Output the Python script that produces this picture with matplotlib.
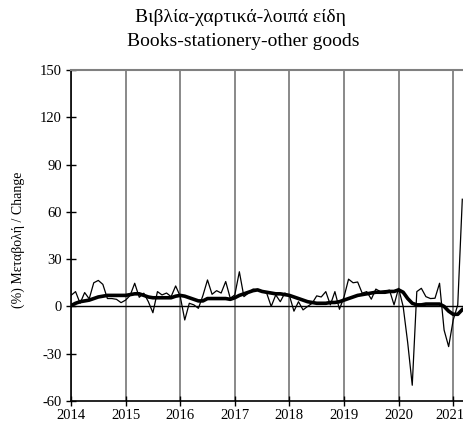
import numpy as np
import matplotlib.pyplot as plt
from matplotlib.transforms import ScaledTranslation

plt.rcParams['font.family'] = ['Liberation Serif', 'DejaVu Serif']
plt.rcParams['axes.unicode_minus'] = False

# monthly year-on-year change, Jan 2014 - Mar 2021
monthly = [7, 9.4, 2, 8.8, 4.8, 15, 16.5, 14, 5, 5, 4.5, 2.4,
           4, 7, 14.7, 5.8, 8.4, 3, -4, 9.4, 7.3, 8.5, 6.2, 13,
           6.5, -8.6, 2, 1, -1.2, 7, 16.8, 7.7, 10, 8.5, 15.8, 5.2,
           7.3, 22, 6.2, 8.5, 11, 10.5, 9.4, 8.5, 0, 7.3, 3, 8.5,
           7, -3, 3, -2.2, 0, 2, 6.7, 6, 9.4, 1, 9.4, -1.8,
           6, 17.3, 15, 15.5, 8.4, 9.4, 4.6, 11, 9.4, 10, 10.3, 1,
           11.5, 0, -23, -50, 9.4, 11.5, 6.2, 5, 5.2, 14.7, -15, -25.5,
           -8.6, 1, 68]
# smoothed series (thick line)
smooth = [0.5, 2, 3, 3.5, 4, 5, 6, 6.5, 7, 7, 7, 7,
          7, 7.5, 8, 8, 7, 6, 5.5, 5.5, 5.5, 5.5, 5.5, 6.5,
          7, 6.5, 5.5, 4.5, 3.5, 3.5, 5, 5, 5, 5, 5, 4.5,
          5.5, 7, 8, 9, 10, 10.5, 9.5, 9, 8.5, 8, 8, 7.5,
          7, 6, 5, 4, 3, 2.5, 2, 2, 2, 2.5, 2.5, 3,
          4, 5, 6, 7, 7.5, 8, 8.5, 9, 9, 9, 9.5, 9.5,
          10.5, 9, 5, 2, 1, 1, 1.5, 1.5, 1.5, 1.5, 0, -3,
          -5, -5, -2]
years = list(range(2014, 2022))

t = 2014 + np.arange(len(monthly)) / 12.0

fig = plt.figure(figsize=(4.64, 4.25), dpi=100)
# the plot area runs past the right edge of the picture, as in the original
ax = fig.add_axes([71 / 464, 1 - 401 / 425, 436.8 / 464, 331 / 425])

for y in years:
    ax.axvline(y, color='#808080', lw=1.3, zorder=1)
ax.axhline(0, color='black', lw=1.0, zorder=2)

ax.plot(t, monthly, color='black', lw=0.9, zorder=3)
ax.plot(t, smooth, color='black', lw=2.6, zorder=4)

ax.set_xlim(2014, 2022)
ax.set_ylim(-60, 150)
ax.set_yticks(range(-60, 151, 30))
ax.set_xticks(years)
ax.set_xticklabels([str(y) for y in years])
ax.tick_params(axis='y', direction='inout', length=7, width=1, labelsize=10.5, pad=3)
ax.tick_params(axis='x', direction='inout', length=7, width=1, labelsize=10.5, pad=2)

# nudge the last year label so it stays inside the picture
last = ax.get_xticklabels()[-1]
last.set_transform(last.get_transform() + ScaledTranslation(-3 / 100, 0, fig.dpi_scale_trans))

ax.spines['top'].set_color('#808080')
ax.spines['top'].set_linewidth(1.5)
ax.spines['right'].set_visible(False)
ax.spines['left'].set_linewidth(1.2)
ax.spines['bottom'].set_linewidth(1.2)

fig.text(18 / 464, 1 - 240 / 425, '(%) Μεταβολή / Change', rotation=90,
         ha='center', va='center', fontsize=10)
fig.text(240 / 464, 1 - 18 / 425, 'Βιβλία-χαρτικά-λοιπά είδη',
         ha='center', va='center', fontsize=14)
fig.text(243 / 464, 1 - 42 / 425, 'Books-stationery-other goods',
         ha='center', va='center', fontsize=14)

fig.savefig('out.png', dpi=100)
